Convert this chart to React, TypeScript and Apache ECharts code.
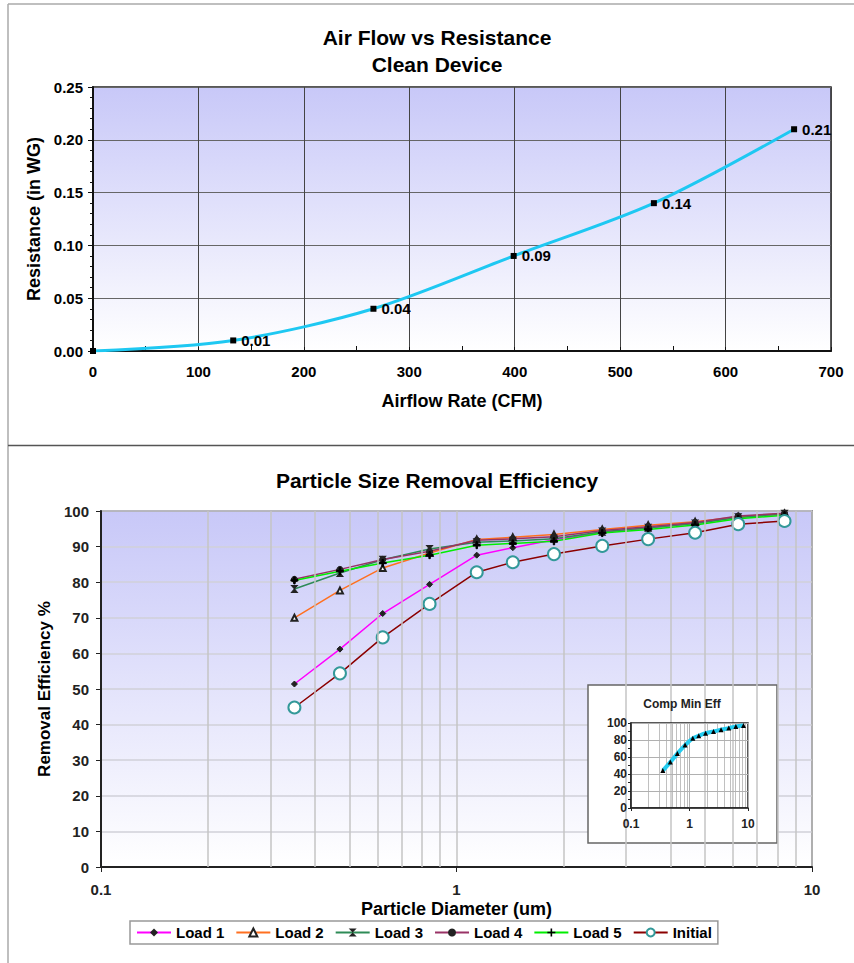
import React, { useEffect, useRef } from "react";
import * as echarts from "echarts";

// ---- Top chart data ----
const airflow = [0, 133, 266, 399, 532, 665];
const resistance = [0, 0.01, 0.04, 0.09, 0.14, 0.21];

// ---- Bottom chart data ----
const sizes = [0.35, 0.47, 0.62, 0.84, 1.14, 1.44, 1.88, 2.57, 3.46, 4.69, 6.2, 8.37];
const load1 = [51.4, 61.2, 71.2, 79.4, 87.6, 89.7, 91.9, 94.0, 95.2, 96.5, 98.3, 99.1];
const load2 = [70.0, 77.7, 84.0, 88.2, 92.0, 92.6, 93.4, 94.8, 96.0, 97.0, 98.4, 99.3];
const load3 = [78.1, 82.6, 86.3, 89.3, 91.2, 91.6, 92.2, 94.2, 95.3, 96.5, 98.2, 99.2];
const load4 = [80.8, 83.6, 86.4, 88.7, 91.8, 92.2, 92.8, 94.5, 95.6, 96.8, 98.6, 99.4];
const load5 = [80.5, 83.1, 85.4, 87.6, 90.4, 90.9, 91.5, 93.8, 94.8, 96.1, 97.8, 98.8];
const initial = [44.8, 54.4, 64.5, 73.9, 82.8, 85.6, 87.9, 90.2, 92.1, 93.9, 96.3, 97.2];
const compMinEff = [44, 54, 64, 74, 82, 85, 88, 90, 92, 94, 96, 97];
const logGridLines = [0.2, 0.3, 0.4, 0.5, 0.6, 0.7, 0.8, 0.9, 2, 3, 4, 5, 6, 7, 8, 9];

const FONT = "'Liberation Sans', Arial, sans-serif";

const pair = (xs: number[], ys: number[]) => xs.map((x, i) => [x, ys[i]]);

export default function App() {
  const ref = useRef<HTMLDivElement>(null);
  useEffect(() => {
    document.body.style.margin = "0";
    if (!ref.current) return;
    const chart = echarts.init(ref.current, null, { renderer: "svg" });
    const grad = () =>
      new echarts.graphic.LinearGradient(0, 0, 0, 1, [
        { offset: 0, color: "#c8c8f8" },
        { offset: 1, color: "#ffffff" },
      ]);
    const bold = { fontFamily: FONT, fontWeight: "bold" as const, color: "#000" };

    const loadSeries = (
      name: string,
      data: number[],
      lineColor: string,
      symbol: string,
      symbolSize: number | number[],
      itemColor: string
    ) => ({
      name,
      type: "line",
      xAxisIndex: 1,
      yAxisIndex: 1,
      data: pair(sizes, data),
      symbol,
      symbolSize,
      z: 3,
      lineStyle: { color: lineColor, width: 1.5 },
      itemStyle: { color: itemColor, borderColor: itemColor },
    });

    const option: any = {
      animation: false,
      textStyle: { fontFamily: FONT },
      title: [
        {
          text: "Air Flow vs Resistance\nClean Device",
          left: 437,
          top: 23.5,
          padding: 0,
          textAlign: "center",
          textStyle: { ...bold, fontSize: 21, lineHeight: 27 },
        },
        {
          text: "Particle Size Removal Efficiency",
          left: 437,
          top: 469,
          padding: 0,
          textAlign: "center",
          textStyle: { ...bold, fontSize: 21, lineHeight: 22 },
        },
        {
          text: "Comp Min Eff",
          left: 682,
          top: 697,
          padding: 0,
          z: 30,
          textAlign: "center",
          textStyle: { ...bold, fontSize: 12, lineHeight: 14, color: "#222" },
        },
      ],
      graphic: {
        z: 2,
        elements: [
          { type: "line", shape: { x1: 8, y1: 4, x2: 854, y2: 4 }, style: { stroke: "#aaa", lineWidth: 1.5 } },
          { type: "line", shape: { x1: 8, y1: 4, x2: 8, y2: 963 }, style: { stroke: "#aaa", lineWidth: 1.5 } },
          { type: "line", shape: { x1: 8, y1: 445.5, x2: 854, y2: 445.5 }, style: { stroke: "#555", lineWidth: 1.5 } },
          {
            type: "rect",
            shape: { x: 588, y: 685, width: 189, height: 158 },
            style: { fill: "#fff", stroke: "#666", lineWidth: 1.5 },
            z: 2,
          },
        ],
      },
      legend: {
        left: 130,
        top: 921,
        itemWidth: 34,
        itemHeight: 10,
        itemGap: 11,
        padding: [4, 6],
        borderColor: "#999",
        borderWidth: 1.5,
        textStyle: { ...bold, fontSize: 15 },
        data: ["Load 1", "Load 2", "Load 3", "Load 4", "Load 5", "Initial"],
      },
      grid: [
        {
          left: 93,
          right: 23,
          top: 87,
          bottom: 612,
          show: true,
          backgroundColor: grad(),
          borderColor: "#222",
          borderWidth: 1.5,
        },
        {
          left: 101,
          right: 42,
          top: 511,
          bottom: 96,
          show: true,
          backgroundColor: grad(),
          borderColor: "#444",
          borderWidth: 1.5,
        },
        {
          left: 631,
          right: 106,
          top: 723,
          bottom: 155,
          show: true,
          backgroundColor: "transparent",
          borderColor: "#222",
          borderWidth: 1.5,
          z: 11,
        },
      ],
      xAxis: [
        {
          gridIndex: 0,
          type: "value",
          min: 0,
          max: 700,
          interval: 100,
          name: "Airflow Rate (CFM)",
          nameLocation: "middle",
          nameGap: 41,
          nameTextStyle: { ...bold, fontSize: 18 },
          axisLine: { lineStyle: { color: "#111", width: 2 } },
          axisTick: { show: true, inside: true, length: 4, lineStyle: { color: "#111" } },
          minorTick: { show: true, splitNumber: 2, length: 5, lineStyle: { color: "#111" } },
          axisLabel: { ...bold, fontSize: 15, margin: 13 },
          splitLine: { show: true, lineStyle: { color: "#444", width: 1 } },
        },
        {
          gridIndex: 1,
          type: "log",
          logBase: 10,
          min: 0.1,
          max: 10,
          name: "Particle Diameter (um)",
          nameLocation: "middle",
          nameGap: 33,
          nameTextStyle: { ...bold, fontSize: 18 },
          axisLine: { onZero: false, lineStyle: { color: "#222", width: 2 } },
          axisTick: { show: true, length: 5, lineStyle: { color: "#222" } },
          axisLabel: { ...bold, fontSize: 15, margin: 15, color: "#222" },
          splitLine: { show: true, lineStyle: { color: "#c4c4c4", width: 1.5 } },
        },
        {
          gridIndex: 2,
          type: "log",
          logBase: 10,
          min: 0.1,
          max: 10,
          axisLine: { onZero: false, lineStyle: { color: "#222", width: 1.5 } },
          axisTick: { show: true, length: 3, lineStyle: { color: "#222" } },
          axisLabel: { ...bold, fontSize: 12, margin: 10, color: "#222" },
          splitLine: { show: true, lineStyle: { color: "#b0b0b0", width: 1 } },
          z: 12,
        },
      ],
      yAxis: [
        {
          gridIndex: 0,
          type: "value",
          min: 0,
          max: 0.25,
          interval: 0.05,
          name: "Resistance (in WG)",
          nameLocation: "middle",
          nameGap: 50,
          nameTextStyle: { ...bold, fontSize: 18 },
          axisLine: { show: true, lineStyle: { color: "#111", width: 2 } },
          axisTick: { show: true, length: 5, lineStyle: { color: "#111" } },
          minorTick: { show: true, splitNumber: 5, length: 3, lineStyle: { color: "#111" } },
          axisLabel: { ...bold, fontSize: 15, margin: 10, formatter: (v: number) => v.toFixed(2) },
          splitLine: { show: true, lineStyle: { color: "#666", width: 1 } },
        },
        {
          gridIndex: 1,
          type: "value",
          min: 0,
          max: 100,
          interval: 10,
          name: "Removal Efficiency %",
          nameLocation: "middle",
          nameGap: 46,
          nameTextStyle: { ...bold, fontSize: 17 },
          axisLine: { show: true, lineStyle: { color: "#222", width: 2 } },
          axisTick: { show: true, length: 5, lineStyle: { color: "#222" } },
          axisLabel: { ...bold, fontSize: 15, margin: 12, color: "#222" },
          splitLine: { show: true, lineStyle: { color: "#d0d0d8", width: 1.5 } },
        },
        {
          gridIndex: 2,
          type: "value",
          min: 0,
          max: 100,
          interval: 20,
          axisLine: { show: true, lineStyle: { color: "#222", width: 1.5 } },
          axisTick: { show: true, length: 3, lineStyle: { color: "#222" } },
          minorTick: { show: true, splitNumber: 2, length: 3, lineStyle: { color: "#222" } },
          axisLabel: { ...bold, fontSize: 12, margin: 4, color: "#222" },
          splitLine: { show: true, lineStyle: { color: "#b0b0b0", width: 1 } },
          z: 12,
        },
      ],
      series: [
        {
          name: "Resistance",
          type: "line",
          xAxisIndex: 0,
          yAxisIndex: 0,
          data: pair(airflow, resistance),
          smooth: 0.3,
          symbol: "rect",
          symbolSize: 6,
          z: 3,
          lineStyle: { color: "#1ec8f2", width: 3 },
          itemStyle: { color: "#000" },
          label: {
            show: true,
            position: "right",
            distance: 5,
            ...bold,
            fontSize: 15,
            formatter: (p: any) => (p.dataIndex === 0 ? "" : p.value[1].toFixed(2)),
          },
        },
        {
          name: "gridMinor",
          type: "line",
          xAxisIndex: 1,
          yAxisIndex: 1,
          data: [],
          z: 1,
          silent: true,
          markLine: {
            silent: true,
            symbol: "none",
            label: { show: false },
            lineStyle: { color: "#c4c4c4", width: 1.5, type: "solid" },
            data: logGridLines.map((v) => ({ xAxis: v })),
          },
        },
        {
          name: "gridMinorInset",
          type: "line",
          xAxisIndex: 2,
          yAxisIndex: 2,
          data: [],
          z: 12,
          silent: true,
          markLine: {
            silent: true,
            symbol: "none",
            label: { show: false },
            lineStyle: { color: "#c0c0c0", width: 1, type: "solid" },
            data: logGridLines.map((v) => ({ xAxis: v })),
          },
        },
        loadSeries("Load 1", load1, "#ff00ff", "diamond", 6, "#222"),
        loadSeries("Load 2", load2, "#ff7020", "emptyTriangle", 6, "#222"),
        loadSeries(
          "Load 3",
          load3,
          "#2e8b57",
          "path://M0,0 L10,0 L5,5 L10,10 L0,10 L5,5 Z",
          [6, 7],
          "#222"
        ),
        loadSeries("Load 4", load4, "#993366", "circle", 6, "#222"),
        loadSeries(
          "Load 5",
          load5,
          "#00ee00",
          "path://M4,0 L6,0 L6,4 L10,4 L10,6 L6,6 L6,10 L4,10 L4,6 L0,6 L0,4 L4,4 Z",
          7,
          "#000"
        ),
        {
          name: "Initial",
          type: "line",
          xAxisIndex: 1,
          yAxisIndex: 1,
          data: pair(sizes, initial),
          symbol: "emptyCircle",
          symbolSize: 12,
          z: 4,
          lineStyle: { color: "#8b0000", width: 1.5 },
          itemStyle: { color: "#339999", borderColor: "#339999", borderWidth: 2 },
        },
        {
          name: "Comp Min Eff",
          type: "line",
          xAxisIndex: 2,
          yAxisIndex: 2,
          data: pair(sizes, compMinEff),
          smooth: 0.3,
          symbol: "triangle",
          symbolSize: 5,
          z: 13,
          lineStyle: { color: "#22ccf0", width: 4 },
          itemStyle: { color: "#000" },
        },
      ],
    };
    chart.setOption(option);
    return () => chart.dispose();
  }, []);
  return <div ref={ref} style={{ width: 854, height: 963 }} />;
}
